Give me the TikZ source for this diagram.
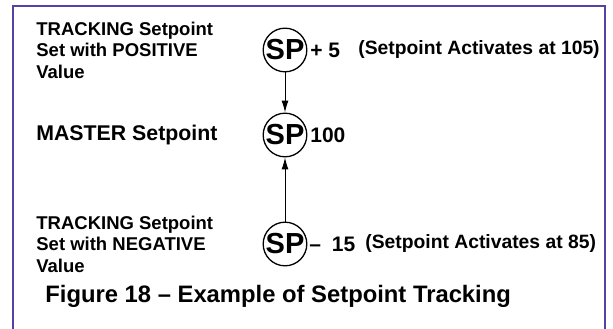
\documentclass[tikz,border=0pt]{standalone}
\usepackage{fontspec}
\setmainfont{Liberation Sans}
\usetikzlibrary{arrows.meta,positioning}
\definecolor{framecol}{RGB}{84,66,164}
\tikzset{every picture/.style={line width=0.75pt}}

\begin{document}
\begin{tikzpicture}[x=1pt,y=-1pt,
    sp/.style={circle,draw,line width=1.3pt,minimum size=43pt,inner sep=0pt,font=\fontsize{29}{29}\selectfont\bfseries},
    lbl/.style={anchor=west,align=left,inner sep=0pt,font=\fontsize{18.5}{21.5}\selectfont\bfseries},
    val/.style={anchor=west,inner sep=0pt,font=\fontsize{21}{21}\selectfont\bfseries},
    note/.style={anchor=west,inner sep=0pt,font=\fontsize{19.3}{19.3}\selectfont\bfseries},
    link/.style={line width=1pt,-{Latex[length=12pt,width=7pt]}}]
    \useasboundingbox (0,0) rectangle (613,329);

    % 外框
    \draw[framecol, line width=1.5pt] (13,329) -- (13,6) -- (605,6) -- (605,329);

    % 设定点
    \node[sp] (sptop) at (285,50) {SP};
    \node[sp] (spmaster) at (285,135) {SP};
    \node[sp] (spbot) at (285,244) {SP};

    % 左侧说明
    \node[lbl] (postext) at (36,50) {TRACKING Setpoint\\Set with POSITIVE\\Value};
    \node[lbl, font=\fontsize{21.3}{21.3}\selectfont\bfseries] (mastertext) at (36,135) {MASTER Setpoint};
    \node[lbl] (negtext) at (36,244) {TRACKING Setpoint\\Set with NEGATIVE\\Value};

    % 数值与说明
    \node[val] (posval) at (310,50) {+ 5};
    \node[note] (posnote) at (358,50) {(Setpoint Activates at 105)};
    \node[val] (masterval) at (310,135) {100};
    \node[val] (negval) at (309,244) {–\hspace{5pt} 15};
    \node[note] (negnote) at (365,244) {(Setpoint Activates at 85)};

    % 箭头
    \draw[link] (sptop) -- (spmaster);
    \draw[link] (spbot) -- (spmaster);

    % 图题
    \node[anchor=west, inner sep=0pt, font=\fontsize{23.8}{23.8}\selectfont\bfseries] (caption) at (45,296) {Figure 18 – Example of Setpoint Tracking};
\end{tikzpicture}
\end{document}
